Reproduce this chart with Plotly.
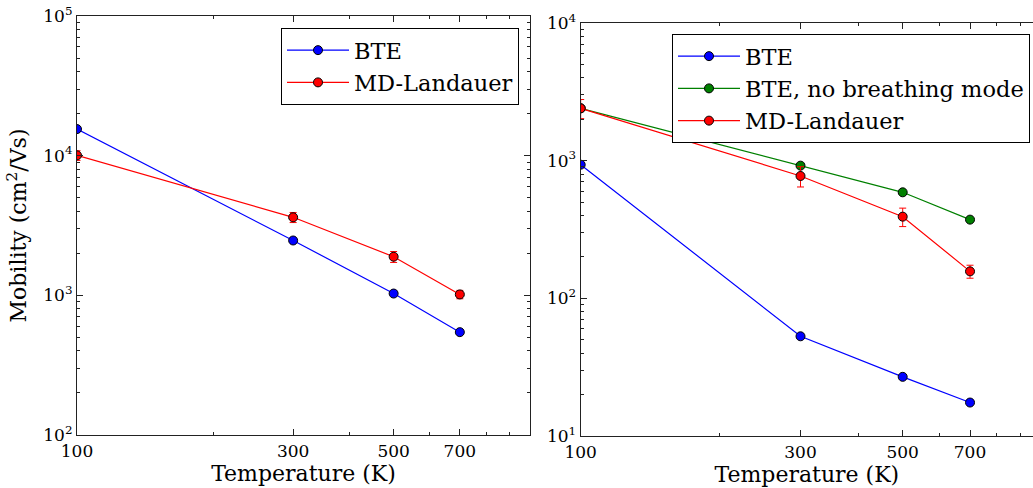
import plotly.graph_objects as go

# ---------------- data ----------------
temperature = [100, 300, 500, 700]

left_bte = [15500, 2470, 1030, 545]
left_md = [10050, 3620, 1890, 1015]
left_md_err = [800, 300, 170, 70]

right_bte = [935, 53, 26.9, 17.5]
right_bte_nobreath = [2400, 920, 589, 373]
right_md = [2400, 774, 392, 157]
right_md_err = [380, 130, 60, 17]

x_tick_vals = [100, 300, 500, 700]
x_tick_text = ["100", "300", "500", "700"]
x_minor_vals = [200, 400, 600, 800, 900]

FONT = "DejaVu Serif"
W, H = 1033, 488

BLUE = "#0000ff"
RED = "#ff0000"
GREEN = "#008000"


def px_x(p):
    return p / W


def px_y(p):
    return (H - p) / H


def yticks(lo, hi):
    vals = [10 ** k for k in range(lo, hi + 1)]
    text = ["10<sup>%d</sup>" % k for k in range(lo, hi + 1)]
    minor = [m * 10 ** k for k in range(lo, hi) for m in range(2, 10)]
    return vals, text, minor


fig = go.Figure()

marker_common = dict(size=9, line=dict(color="black", width=1))

# ---- left panel ----
fig.add_trace(go.Scatter(
    x=temperature, y=left_bte, mode="lines+markers", name="BTE",
    line=dict(color=BLUE, width=1.2), marker=dict(color=BLUE, **marker_common),
    xaxis="x", yaxis="y", legend="legend"))
fig.add_trace(go.Scatter(
    x=temperature, y=left_md, mode="lines+markers", name="MD-Landauer",
    line=dict(color=RED, width=1.2), marker=dict(color=RED, **marker_common),
    error_y=dict(type="data", array=left_md_err, color=RED, thickness=1, width=3.5),
    xaxis="x", yaxis="y", legend="legend"))

# ---- right panel ----
fig.add_trace(go.Scatter(
    x=temperature, y=right_bte, mode="lines+markers", name="BTE",
    line=dict(color=BLUE, width=1.2), marker=dict(color=BLUE, **marker_common),
    xaxis="x2", yaxis="y2", legend="legend2"))
fig.add_trace(go.Scatter(
    x=temperature, y=right_bte_nobreath, mode="lines+markers", name="BTE, no breathing mode",
    line=dict(color=GREEN, width=1.2), marker=dict(color=GREEN, **marker_common),
    xaxis="x2", yaxis="y2", legend="legend2"))
fig.add_trace(go.Scatter(
    x=temperature, y=right_md, mode="lines+markers", name="MD-Landauer",
    line=dict(color=RED, width=1.2), marker=dict(color=RED, **marker_common),
    error_y=dict(type="data", array=right_md_err, color=RED, thickness=1, width=3.5),
    xaxis="x2", yaxis="y2", legend="legend2"))

axis_line = dict(showline=True, linecolor="#222222", linewidth=1.2,
                 showgrid=False, zeroline=False, automargin=False,
                 ticks="inside", ticklen=6, tickwidth=1, tickcolor="#222222",
                 tickfont=dict(family=FONT, size=17, color="black"))

xaxis_common = dict(type="log", tickmode="array", tickvals=x_tick_vals, ticktext=x_tick_text,
                    minor=dict(tickmode="array", tickvals=x_minor_vals, ticks="inside",
                               ticklen=3, tickcolor="#222222"),
                    title=dict(text="Temperature (K)", font=dict(family=FONT, size=22, color="black"),
                               standoff=6),
                    **axis_line)

lv, lt, lm = yticks(2, 5)
rv, rt, rm = yticks(1, 4)

legend_font = dict(family=FONT, size=22.5, color="black")

fig.update_layout(
    width=W, height=H,
    margin=dict(l=0, r=0, t=0, b=0),
    paper_bgcolor="white", plot_bgcolor="white",
    font=dict(family=FONT, color="black"),
    xaxis=dict(domain=[px_x(77), px_x(530)], range=[2, 3], anchor="y", mirror="allticks",
               **xaxis_common),
    yaxis=dict(domain=[px_y(435), px_y(16)], type="log", range=[2, 5], anchor="x",
               mirror="allticks", tickmode="array", tickvals=lv, ticktext=lt,
               minor=dict(tickmode="array", tickvals=lm, ticks="inside", ticklen=3,
                          tickcolor="#222222"),
               title=dict(text="Mobility (cm<sup>2</sup>/Vs)",
                          font=dict(family=FONT, size=22, color="black"), standoff=10),
               **axis_line),
    xaxis2=dict(domain=[px_x(580.7), 1.0], range=[2, 2.9818], anchor="y2", mirror="allticks",
                **xaxis_common),
    yaxis2=dict(domain=[px_y(436), px_y(23)], type="log", range=[1, 4], anchor="x2",
                mirror=False, tickmode="array", tickvals=rv, ticktext=rt,
                minor=dict(tickmode="array", tickvals=rm, ticks="inside", ticklen=3,
                           tickcolor="#222222"),
                **axis_line),
    legend=dict(x=px_x(519), y=px_y(28), xanchor="right", yanchor="top",
                bordercolor="black", borderwidth=1, bgcolor="white",
                font=legend_font, itemwidth=62),
    legend2=dict(x=px_x(1030), y=px_y(34), xanchor="right", yanchor="top",
                 bordercolor="black", borderwidth=1, bgcolor="white",
                 font=legend_font, itemwidth=62),
)

fig.write_html("out.html")
